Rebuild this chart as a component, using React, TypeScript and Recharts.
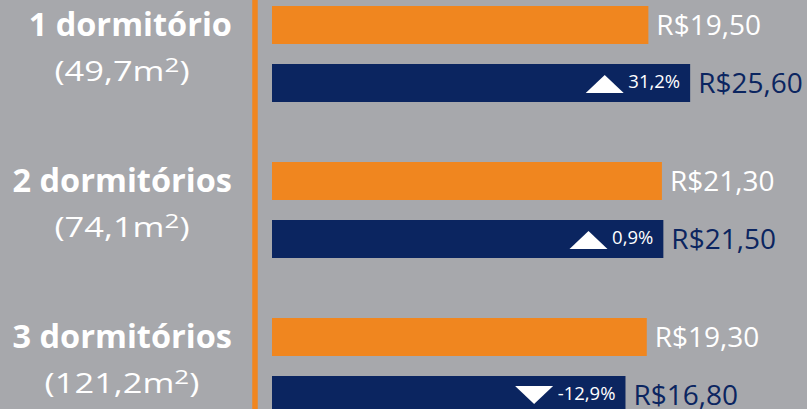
import { BarChart, Bar, XAxis, YAxis, LabelList } from 'recharts';

const categories = ['1 dormitório', '2 dormitórios', '3 dormitórios'];
const areas = ['49,7', '74,1', '121,2'];
const previousPrice = [19.5, 21.3, 19.3];
const currentPrice = [25.6, 21.5, 16.8];
const priceChange = [31.2, 0.9, -12.9];

const BG = '#a7a8ac';
const ORANGE = '#f0861f';
const NAVY = '#0b2560';
const FONT = '"Open Sans", sans-serif';

const data = categories.map((name, i) => ({
  name,
  area: areas[i],
  previous: previousPrice[i],
  current: currentPrice[i],
  change: priceChange[i],
}));

const brl = (v: number) => `R$${Number(v).toFixed(2).replace('.', ',')}`;
const pct = (v: number) => `${Number(v).toFixed(1).replace('.', ',')}%`;

// rough Open Sans advance widths, in em
const CHAR_W: Record<string, number> = { ',': 0.244, '%': 0.82, '-': 0.322 };
const textWidth = (s: string, size: number) =>
  s.split('').reduce((w, c) => w + (CHAR_W[c] ?? 0.572), 0) * size;

const CategoryTick = ({ y, payload }: any) => {
  const row = data.find((d) => d.name === payload.value);
  return (
    <g>
      <text
        x={232}
        y={y - 18}
        textAnchor="end"
        fill="#fff"
        fontFamily={FONT}
        fontWeight={700}
        fontSize={32.5}
      >
        {payload.value}
      </text>
      <text
        transform={`translate(122, ${y + 27}) scale(1.3, 1)`}
        textAnchor="middle"
        fill="#fff"
        fontFamily={FONT}
        fontSize={26.5}
      >
        ({row?.area}m<tspan dy={-9} fontSize={20}>2</tspan><tspan dy={9}>)</tspan>
      </text>
    </g>
  );
};

const ChangeLabel = ({ x, y, width, height, value }: any) => {
  const label = pct(value);
  const cy = Number(y) + Number(height) / 2;
  const right = Number(x) + Number(width) - 10;
  const triRight = right - textWidth(label, 18.5) - 5;
  const triLeft = triRight - 38;
  const mid = (triLeft + triRight) / 2;
  const points =
    value >= 0
      ? `${triLeft},${cy + 10} ${triRight},${cy + 10} ${mid},${cy - 8}`
      : `${triLeft},${cy - 9} ${triRight},${cy - 9} ${mid},${cy + 9}`;
  return (
    <g>
      <polygon points={points} fill="#fff" />
      <text x={right} y={cy + 5} textAnchor="end" fill="#fff" fontFamily={FONT} fontSize={18.5}>
        {label}
      </text>
    </g>
  );
};

export default function App() {
  return (
    <div
      style={{
        position: 'fixed',
        left: 0,
        top: 0,
        width: 807,
        height: 409,
        overflow: 'hidden',
        background: BG,
      }}
    >
      <div style={{ position: 'absolute', left: 0, top: -24 }}>
        <BarChart
          width={807}
          height={468}
          data={data}
          layout="vertical"
          margin={{ top: 0, right: 92.5, bottom: 0, left: 0 }}
          barSize={38}
          barGap={20}
        >
          <XAxis
            type="number"
            scale="log"
            domain={[1.68, 30]}
            hide
            padding={{ left: 17, right: 0 }}
          />
          <YAxis
            type="category"
            dataKey="name"
            width={255}
            tickLine={false}
            axisLine={{ stroke: ORANGE, strokeWidth: 5.5 }}
            tick={<CategoryTick />}
          />
          <Bar dataKey="previous" fill={ORANGE} isAnimationActive={false}>
            <LabelList
              dataKey="previous"
              position="right"
              offset={8}
              formatter={brl}
              fill="#fff"
              fontFamily={FONT}
              fontSize={28}
            />
          </Bar>
          <Bar dataKey="current" fill={NAVY} isAnimationActive={false}>
            <LabelList dataKey="change" content={<ChangeLabel />} />
            <LabelList
              dataKey="current"
              position="right"
              offset={8}
              formatter={brl}
              fill={NAVY}
              fontFamily={FONT}
              fontSize={28}
            />
          </Bar>
        </BarChart>
      </div>
    </div>
  );
}
